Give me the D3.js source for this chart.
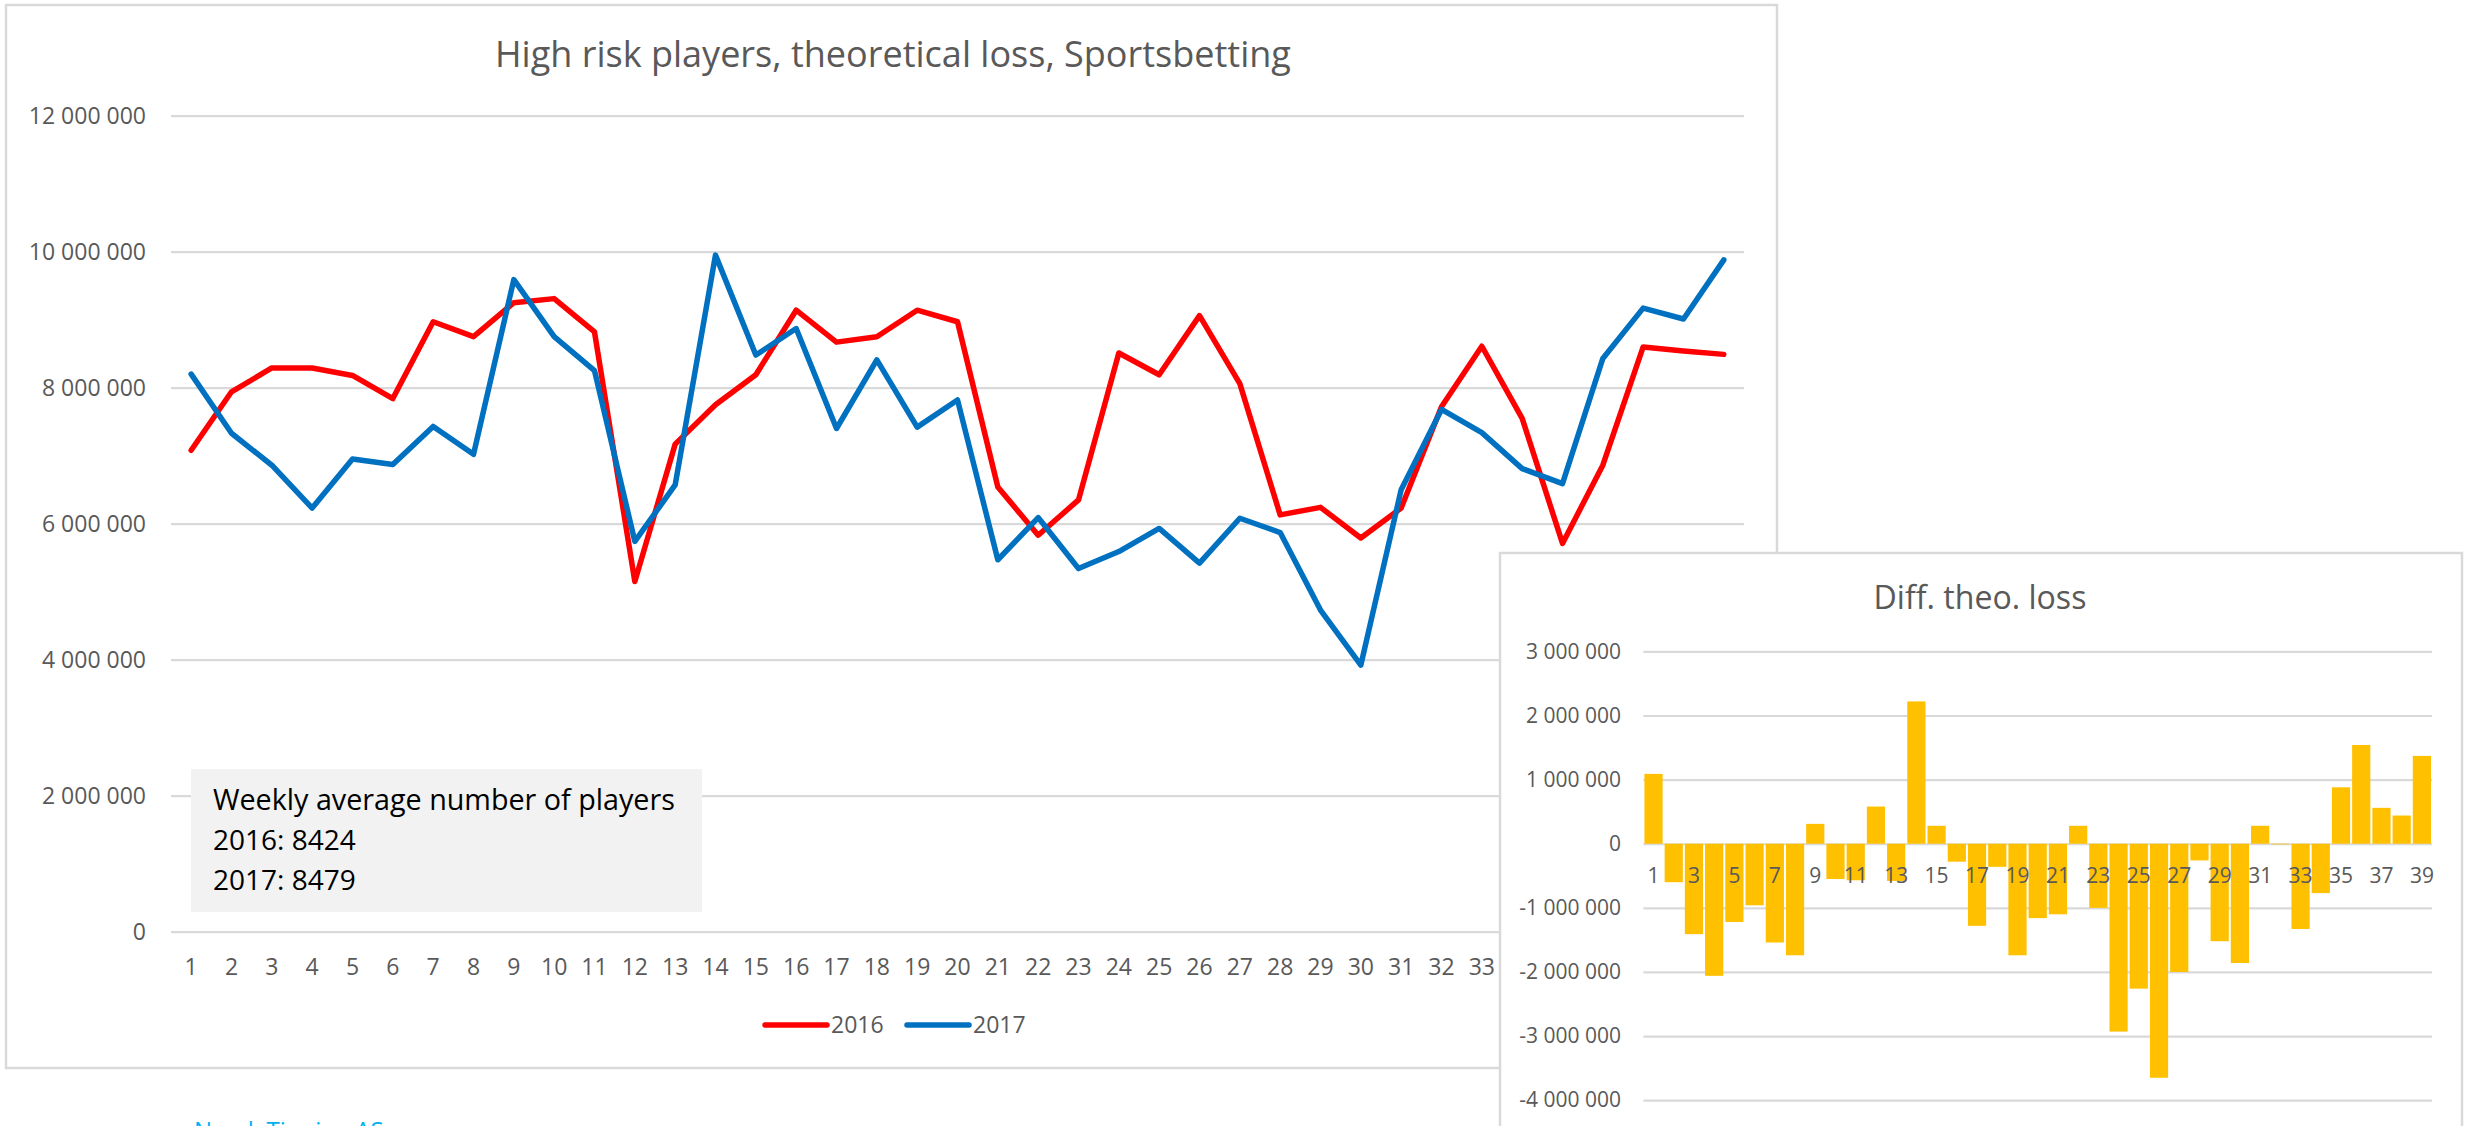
<!DOCTYPE html>
<html>
<head>
<meta charset="utf-8">
<script src="https://cdn.jsdelivr.net/npm/d3@7"></script>
<style>
  body { margin: 0; background: #fff; }
  svg { display: block; font-family: "Open Sans", sans-serif; }
</style>
</head>
<body>
<div id="chart"></div>
<script>
"use strict";

// week numbers (categories)
const weeks = ["1","2","3","4","5","6","7","8","9","10","11","12","13","14","15","16","17","18","19","20",
    "21","22","23","24","25","26","27","28","29","30","31","32","33","34","35","36","37","38","39"];

// theoretical loss per week, 2016
const loss2016 = [7080000, 7940000, 8290000, 8290000, 8180000, 7840000, 8970000, 8750000, 9250000, 9310000,
    8820000, 5150000, 7170000, 7750000, 8190000, 9140000, 8670000, 8750000, 9140000, 8970000,
    6540000, 5830000, 6350000, 8510000, 8190000, 9060000, 8060000, 6130000, 6240000, 5790000,
    6230000, 7720000, 8610000, 7550000, 5710000, 6860000, 8600000, 8540000, 8490000];

// theoretical loss per week, 2017
const loss2017 = [8200000, 7330000, 6860000, 6230000, 6950000, 6870000, 7430000, 7020000, 9590000, 8750000,
    8250000, 5740000, 6570000, 9950000, 8480000, 8870000, 7400000, 8410000, 7420000, 7820000,
    5470000, 6090000, 5340000, 5590000, 5930000, 5420000, 6080000, 5870000, 4730000, 3920000,
    6500000, 7680000, 7340000, 6810000, 6590000, 8430000, 9170000, 9010000, 9880000];

// difference bars (inset chart)
const diffLoss = [1090000, -600000, -1410000, -2060000, -1220000, -960000, -1540000, -1740000, 310000, -550000,
    -570000, 580000, -580000, 2220000, 280000, -280000, -1280000, -360000, -1740000, -1160000,
    -1100000, 280000, -1000000, -2930000, -2260000, -3650000, -2000000, -260000, -1520000, -1860000,
    280000, -10000, -1330000, -770000, 880000, 1540000, 560000, 440000, 1370000];

const mainTicks = [0, 2000000, 4000000, 6000000, 8000000, 10000000, 12000000];
const diffTicks = [-4000000, -3000000, -2000000, -1000000, 0, 1000000, 2000000, 3000000];
const seriesNames = ["2016", "2017"];
const infoLines = ["Weekly average number of players", "2016: 8424", "2017: 8479"];

const mainTitle = "High risk players, theoretical loss, Sportsbetting";
const diffTitle = "Diff. theo. loss";
const footer = "Norsk Tipping AS";

const colors = { red: "#FF0000", blue: "#0070C0", bar: "#FFC000", grid: "#D9D9D9", text: "#595959" };

const W = 2473, H = 1126;
const insetLeft = 1500;
const svg = d3.select("#chart").append("svg").attr("width", W).attr("height", H);

const loc = d3.formatLocale({ decimal: ",", thousands: "\u00a0", grouping: [3], currency: ["", ""], minus: "-" });
const fmt = loc.format(",d");

// shrink/grow a text so it takes the given width
function fitWidth(sel, w) {
    const len = sel.node().getComputedTextLength();
    const fs = parseFloat(sel.attr("font-size"));
    sel.attr("font-size", fs * w / len);
}

// ---------- main chart ----------
const main = svg.append("g");
main.append("rect")
    .attr("x", 6).attr("y", 5).attr("width", 1771).attr("height", 1063)
    .attr("fill", "#fff").attr("stroke", colors.grid).attr("stroke-width", 2.5);

const x = d3.scaleBand().domain(weeks).range([171, 1744]);
const y = d3.scaleLinear().domain([0, 12000000]).range([931.7, 115.7]);

main.append("g")
    .attr("transform", "translate(171,0)")
    .call(d3.axisLeft(y).tickValues(mainTicks).tickSize(-(1744 - 171)).tickFormat(""))
    .call(g => g.select(".domain").remove())
    .call(g => g.selectAll("line").attr("stroke", colors.grid).attr("stroke-width", 2.2));

main.append("g")
    .attr("transform", "translate(150,0)")
    .call(d3.axisLeft(y).tickValues(mainTicks).tickSize(0).tickPadding(4).tickFormat(fmt))
    .call(g => g.select(".domain").remove())
    .call(g => g.selectAll("text").attr("fill", colors.text).attr("font-size", 23)
        .attr("font-family", "Open Sans"));

// week labels hidden under the inset are not drawn
main.append("g")
    .attr("transform", "translate(0,967)")
    .call(d3.axisBottom(x).tickSize(0).tickPadding(0)
        .tickValues(weeks.filter(w => x(w) + x.bandwidth() / 2 + 14 < insetLeft)))
    .call(g => g.select(".domain").remove())
    .call(g => g.selectAll("text").attr("fill", colors.text).attr("font-size", 23)
        .attr("font-family", "Open Sans").attr("dy", "0.35em"));

const title = main.append("text")
    .attr("x", 893).attr("y", 66.5).attr("text-anchor", "middle")
    .attr("fill", colors.text).attr("font-size", 32)
    .text(mainTitle);
fitWidth(title, 796);

const line = d3.line()
    .x((d, i) => x(weeks[i]) + x.bandwidth() / 2)
    .y(d => y(d));

[[loss2016, colors.red], [loss2017, colors.blue]].forEach(([data, c]) => {
    main.append("path")
        .datum(data)
        .attr("d", line)
        .attr("fill", "none")
        .attr("stroke", c)
        .attr("stroke-width", 5.5)
        .attr("stroke-linejoin", "round")
        .attr("stroke-linecap", "round");
});

// info box
main.append("rect")
    .attr("x", 191).attr("y", 769).attr("width", 511).attr("height", 143)
    .attr("fill", "#F2F2F2");
infoLines.forEach((t, i) => {
    const txt = main.append("text")
        .attr("x", 213).attr("y", 810 + i * 40)
        .attr("fill", "#000").attr("font-size", 28)
        .text(t);
    if (i === 0) fitWidth(txt, 462);
});

// legend
const legend = main.append("g").attr("transform", "translate(765,1025)");
const legendColors = [colors.red, colors.blue];
seriesNames.forEach((name, i) => {
    const g = legend.append("g").attr("transform", `translate(${i * 142},0)`);
    g.append("line").attr("x1", 0).attr("x2", 62).attr("y1", 0).attr("y2", 0)
        .attr("stroke", legendColors[i]).attr("stroke-width", 5.5).attr("stroke-linecap", "round");
    g.append("text").attr("x", 66).attr("y", 0).attr("dy", "0.35em")
        .attr("fill", colors.text).attr("font-size", 23).text(name);
});

// footer (cut by the bottom edge, as in the screenshot)
svg.append("text")
    .attr("x", 194).attr("y", 1139)
    .attr("fill", "#00B0F0").attr("font-size", 24)
    .text(footer);

// ---------- inset: difference chart ----------
const inset = svg.append("g");
inset.append("rect")
    .attr("x", insetLeft).attr("y", 553).attr("width", 962).attr("height", 700)
    .attr("fill", "#fff").attr("stroke", colors.grid).attr("stroke-width", 2.5);

const xd = d3.scaleBand().domain(weeks).range([1643.4, 2432]).paddingInner(0.1).paddingOuter(0.05);
const yd = d3.scaleLinear().domain([-4000000, 3000000]).range([1100.2, 651.4]);

inset.append("g")
    .attr("transform", "translate(1643.4,0)")
    .call(d3.axisLeft(yd).tickValues(diffTicks).tickSize(-(2432 - 1643.4)).tickFormat(""))
    .call(g => g.select(".domain").remove())
    .call(g => g.selectAll("line").attr("stroke", colors.grid).attr("stroke-width", 2.2));

inset.append("g")
    .attr("transform", "translate(1624,0)")
    .call(d3.axisLeft(yd).tickValues(diffTicks).tickSize(0).tickPadding(3).tickFormat(fmt))
    .call(g => g.select(".domain").remove())
    .call(g => g.selectAll("text").attr("fill", colors.text).attr("font-size", 21)
        .attr("font-family", "Open Sans"));

inset.append("g")
    .selectAll("rect")
    .data(diffLoss)
    .join("rect")
    .attr("x", (d, i) => xd(weeks[i]))
    .attr("width", xd.bandwidth())
    .attr("y", d => yd(Math.max(0, d)))
    .attr("height", d => Math.abs(yd(d) - yd(0)))
    .attr("fill", colors.bar);

inset.append("g")
    .attr("transform", "translate(0,876)")
    .call(d3.axisBottom(xd).tickValues(weeks.filter((w, i) => i % 2 === 0)).tickSize(0).tickPadding(0))
    .call(g => g.select(".domain").remove())
    .call(g => g.selectAll("text").attr("fill", colors.text).attr("font-size", 21)
        .attr("font-family", "Open Sans").attr("dy", "0.35em"));

const dTitle = inset.append("text")
    .attr("x", 1980).attr("y", 609).attr("text-anchor", "middle")
    .attr("fill", colors.text).attr("font-size", 28)
    .text(diffTitle);
fitWidth(dTitle, 213);
</script>
</body>
</html>
